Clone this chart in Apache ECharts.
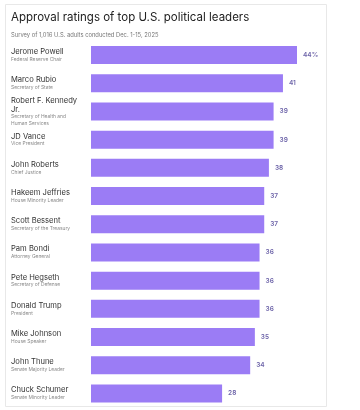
<!DOCTYPE html>
<html>
<head>
<meta charset="utf-8">
<script src="https://cdn.jsdelivr.net/npm/echarts@6/dist/echarts.min.js"></script>
<style>
html,body{margin:0;padding:0;background:#fff;}
#chart{width:360px;height:410px;}
</style>
</head>
<body>
<div id="chart"></div>
<script>
var titleText = 'Approval ratings of top U.S. political leaders';
var subtitleText = 'Survey of 1,016 U.S. adults conducted Dec. 1-15, 2025';
var names = ['Jerome Powell','Marco Rubio','Robert F. Kennedy\nJr.','JD Vance','John Roberts','Hakeem Jeffries','Scott Bessent','Pam Bondi','Pete Hegseth','Donald Trump','Mike Johnson','John Thune','Chuck Schumer'];
var roles = ['Federal Reserve Chair','Secretary of State','Secretary of Health and\nHuman Services','Vice President','Chief Justice','House Minority Leader','Secretary of the Treasury','Attorney General','Secretary of Defense','President','House Speaker','Senate Majority Leader','Senate Minority Leader'];
var values = [44,41,39,39,38,37,37,36,36,36,35,34,28];

var FONT = 'Inter, "Noto Sans", sans-serif';
var cats = names.map(function(n,i){ return String(i); });

var chart = echarts.init(document.getElementById('chart'), null, {renderer:'canvas'});
chart.setOption({
  backgroundColor:'#fff',
  animation:false,
  graphic:[{type:'rect', shape:{x:5.5,y:4.5,width:321,height:402}, style:{fill:'none',stroke:'#e8e8e8',lineWidth:1}, z:-1}],
  title:[
    {text:titleText, left:11, top:12, padding:0, textStyle:{fontFamily:FONT,fontSize:11.5,fontWeight:'normal',color:'#222'}},
    {text:subtitleText, left:11, top:32, padding:0, textStyle:{fontFamily:FONT,fontSize:5.8,fontWeight:'normal',color:'#777'}}
  ],
  grid:{left:91, width:206, top:41, bottom:2.5, containLabel:false},
  xAxis:{type:'value', min:0, max:44, show:false},
  yAxis:{
    type:'category', data:cats, inverse:true,
    axisLine:{show:false}, axisTick:{show:false}, splitLine:{show:false},
    axisLabel:{
      align:'left', margin:80, fontFamily:FONT,
      formatter:function(v){
        var i = +v;
        var n = names[i].split('\n').map(function(s){return '{n|'+s+'}';}).join('\n');
        var r = roles[i].split('\n').map(function(s){return '{r|'+s+'}';}).join('\n');
        return n + '\n' + r;
      },
      rich:{
        n:{fontFamily:FONT,fontSize:7.6,color:'#333',lineHeight:8.5},
        r:{fontFamily:FONT,fontSize:4.9,color:'#8a8a8a',lineHeight:6.5}
      }
    }
  },
  series:[{
    type:'bar', data:values, barWidth:18,
    itemStyle:{color:'#9b7cf5'},
    label:{show:true, position:'right', distance:6, fontFamily:FONT, fontSize:6.5, fontWeight:600, color:'#6f66aa',
      formatter:function(p){ return p.dataIndex===0 ? p.value+'%' : String(p.value); }}
  }]
});
</script>
</body>
</html>
